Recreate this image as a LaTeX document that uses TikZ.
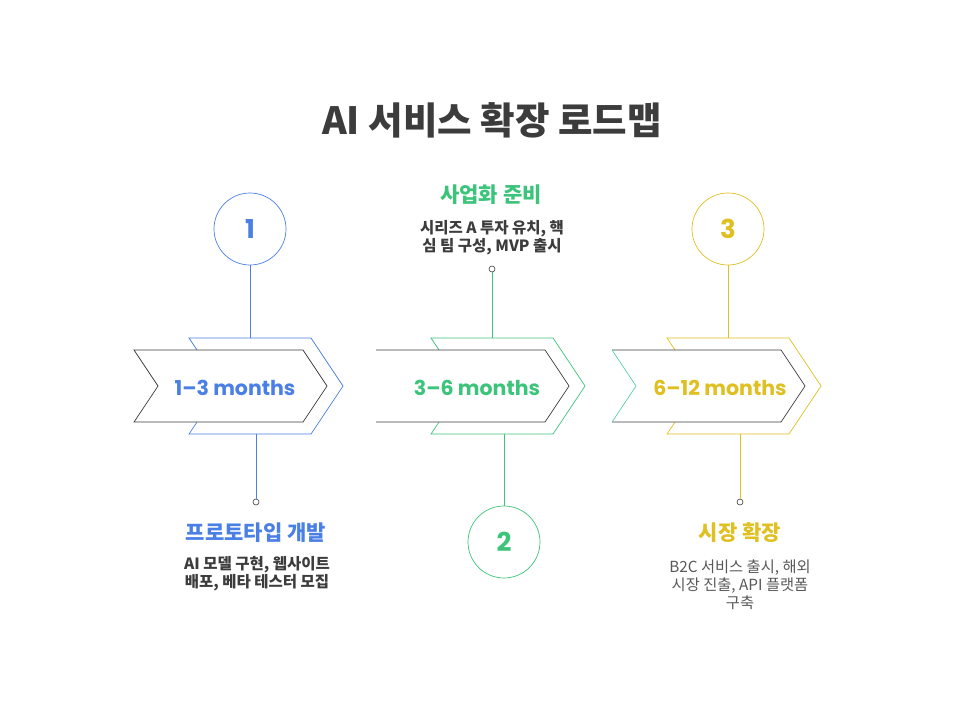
\documentclass[tikz,border=0pt]{standalone}
\usepackage{fontspec}
\setmainfont{Noto Sans CJK KR}
\newfontfamily\geofont{Poppins}
\definecolor{stepblue}{HTML}{4A80E6}
\definecolor{stepgreen}{HTML}{3CC47A}
\definecolor{stepyellow}{HTML}{E0C020}
\definecolor{notchteal}{HTML}{5CCFB0}
\definecolor{inkgray}{HTML}{3C3C3C}
\tikzset{
  numcircle/.style={circle, draw, line width=0.7pt, minimum size=72pt, inner sep=0pt,
    font=\geofont\bfseries\fontsize{26}{26}\selectfont},
  enddot/.style={circle, draw=inkgray, fill=white, line width=0.6pt, minimum size=6pt, inner sep=0pt},
  periodlabel/.style={font=\geofont\bfseries\fontsize{20.5}{20.5}\selectfont},
  stagetitle/.style={font=\bfseries\fontsize{21}{21}\selectfont},
  stagetext/.style={align=center, text=inkgray, font=\bfseries\fontsize{15.5}{18}\selectfont},
  stagetextlight/.style={align=center, text=inkgray!85, font=\fontsize{15.3}{18}\selectfont}
}
\begin{document}
\begin{tikzpicture}[x=1pt, y=-1pt]
      \useasboundingbox[fill=white] (0,0) rectangle (960,720);
      \node[text=inkgray, font=\bfseries\fontsize{37.5}{37.5}\selectfont] (title) at (492,120) {AI 서비스 확장 로드맵};
      % back chevrons
      \draw[stepblue, line width=0.7pt] (189,338) -- (311,338) -- (343,386) -- (311,434) -- (189,434) -- (221,386) -- cycle;
      \draw[stepgreen, line width=0.7pt] (431,338) -- (553,338) -- (585,386) -- (553,434) -- (431,434) -- (463,386) -- cycle;
      \draw[stepyellow, line width=0.7pt] (667,338) -- (789,338) -- (821,386) -- (789,434) -- (667,434) -- (699,386) -- cycle;
      % front chevrons
      \fill[white] (134,350) -- (303,350) -- (327,386) -- (303,422) -- (134,422) -- (158,386) -- cycle;
      \draw[inkgray, line width=0.7pt] (134,350) -- (303,350) -- (327,386) -- (303,422) -- (134,422) -- (158,386) -- cycle;
      \fill[white] (376,350) -- (545,350) -- (569,386) -- (545,422) -- (376,422) -- (400,386) -- cycle;
      \draw[inkgray, line width=0.7pt] (376,350) -- (545,350) -- (569,386) -- (545,422) -- (376,422);
      \fill[white] (612,350) -- (781,350) -- (805,386) -- (781,422) -- (612,422) -- (636,386) -- cycle;
      \draw[inkgray, line width=0.7pt] (612,350) -- (781,350) -- (805,386) -- (781,422) -- (612,422);
      \draw[notchteal, line width=0.7pt] (612,350) -- (636,386) -- (612,422);
      \node[periodlabel, text=stepblue] (p1) at (235,388) {1–3 months};
      \node[periodlabel, text=stepgreen] (p2) at (477,388) {3–6 months};
      \node[periodlabel, text=stepyellow] (p3) at (720,388) {6–12 months};
      % anchors on the back chevrons
      \coordinate (t1) at (250,338);
      \coordinate (b1) at (256,434);
      \coordinate (t2) at (492,338);
      \coordinate (b2) at (504,434);
      \coordinate (t3) at (728,338);
      \coordinate (b3) at (740,434);
      \node[numcircle, draw=stepblue, text=stepblue] (c1) at (250,229) {1};
      \node[numcircle, draw=stepgreen, text=stepgreen] (c2) at (504,542) {2};
      \node[numcircle, draw=stepyellow, text=stepyellow] (c3) at (728,229) {3};
      \node[enddot] (d1) at (256,502) {};
      \node[enddot] (d2) at (492,269) {};
      \node[enddot] (d3) at (740,502) {};
      \draw[stepblue, line width=0.7pt] (c1) -- (t1);
      \draw[stepblue, line width=0.7pt] (b1) -- (d1);
      \draw[stepgreen, line width=0.7pt] (d2) -- (t2);
      \draw[stepgreen, line width=0.7pt] (b2) -- (c2);
      \draw[stepyellow, line width=0.7pt] (c3) -- (t3);
      \draw[stepyellow, line width=0.7pt] (b3) -- (d3);
      % stage texts
      \node[stagetitle, text=stepgreen] (s2) at (491,195) {사업화 준비};
      \node[stagetext] (x2) at (492,238) {시리즈 A 투자 유치, 핵\\심 팀 구성, MVP 출시};
      \node[stagetitle, text=stepblue] (s1) at (256,533) {프로토타입 개발};
      \node[stagetext] (x1) at (257,574) {AI 모델 구현, 웹사이트\\배포, 베타 테스터 모집};
      \node[stagetitle, text=stepyellow] (s3) at (740,533) {시장 확장};
      \node[stagetextlight] (x3) at (740,585) {B2C 서비스 출시, 해외\\시장 진출, API 플랫폼\\구축};
    \end{tikzpicture}
\end{document}
